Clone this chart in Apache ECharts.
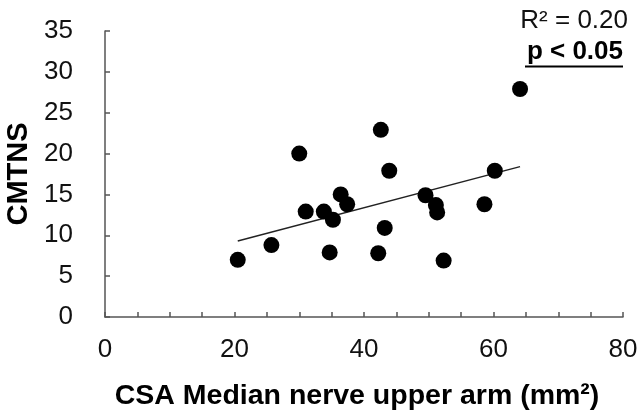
<!DOCTYPE html>
<html>
<head>
<meta charset="utf-8">
<script src="https://cdn.jsdelivr.net/npm/echarts@6/dist/echarts.min.js"></script>
<style>html,body{margin:0;padding:0;background:#fff}#c{width:638px;height:410px}</style>
</head>
<body>
<div id="c"></div>
<script>
var csaValues = [20.5, 25.7, 30.0, 31.0, 33.8, 35.2, 34.7, 36.4, 37.4, 42.6, 43.9, 43.2, 42.2, 49.5, 51.1, 51.3, 52.3, 58.6, 60.2, 64.1];
var cmtnsValues = [7.0, 8.8, 20.0, 12.9, 12.9, 11.9, 7.9, 15.0, 13.8, 22.9, 17.9, 10.9, 7.8, 14.9, 13.7, 12.8, 6.9, 13.8, 17.9, 27.9];
var trendX = [20.5, 64.1];
var trendY = [9.3, 18.4];
var xTickLabels = [0, 20, 40, 60, 80];
var yTickLabels = [0, 5, 10, 15, 20, 25, 30, 35];
var statR2 = 'R² = 0.20';
var statP = 'p < 0.05';

var points = csaValues.map(function (x, i) { return [x, cmtnsValues[i]]; });
var trend = trendX.map(function (x, i) { return [x, trendY[i]]; });
var font = '"Liberation Sans", Arial, sans-serif';

var chart = echarts.init(document.getElementById('c'));
chart.setOption({
  animation: false,
  backgroundColor: '#fff',
  grid: { left: 105, right: 15, top: 31, bottom: 93, containLabel: false, outerBoundsMode: 'none' },
  xAxis: {
    type: 'value', min: 0, max: 80, interval: 5,
    name: 'CSA Median nerve upper arm (mm²)', nameLocation: 'middle', nameGap: 65,
    nameTextStyle: { fontFamily: font, fontWeight: 'bold', fontSize: 28.5, color: '#000', padding: [0, 14, 0, 0] },
    axisLine: { show: true, lineStyle: { color: '#555', width: 1.5 } },
    axisTick: { show: true, inside: true, length: 5, lineStyle: { color: '#555', width: 1.5 } },
    axisLabel: {
      margin: 20, fontFamily: font, fontSize: 26, color: '#111',
      formatter: function (v) { return xTickLabels.indexOf(v) >= 0 ? String(v) : ''; }
    },
    splitLine: { show: false }
  },
  yAxis: {
    type: 'value', min: 0, max: 35, interval: 5,
    name: 'CMTNS', nameLocation: 'middle', nameGap: 72,
    nameTextStyle: { fontFamily: font, fontWeight: 'bold', fontSize: 29, color: '#000' },
    axisLine: { show: true, lineStyle: { color: '#555', width: 1.5 } },
    axisTick: { show: true, inside: true, length: 5, lineStyle: { color: '#555', width: 1.5 } },
    axisLabel: {
      margin: 32, fontFamily: font, fontSize: 26, color: '#111',
      formatter: function (v) { return yTickLabels.indexOf(v) >= 0 ? String(v) : ''; }
    },
    splitLine: { show: false }
  },
  series: [
    {
      type: 'line', data: trend, symbol: 'none', silent: true,
      lineStyle: { color: '#222', width: 1.5 }, z: 1
    },
    {
      type: 'scatter', data: points, symbol: 'circle', symbolSize: 16,
      itemStyle: { color: '#000', opacity: 1 }, z: 2
    }
  ],
  graphic: [
    { type: 'text', right: 10, top: 8, style: { text: statR2, font: '26px ' + font, fill: '#111' } },
    { type: 'text', right: 15, top: 39, style: { text: statP, font: 'bold 26px ' + font, fill: '#000' } },
    { type: 'line', shape: { x1: 525, y1: 66.5, x2: 623, y2: 66.5 }, style: { stroke: '#000', lineWidth: 2 } }
  ]
});
</script>
</body>
</html>
